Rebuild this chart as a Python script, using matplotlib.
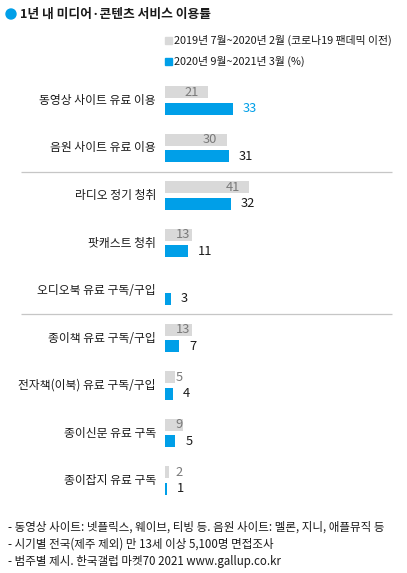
import matplotlib.pyplot as plt
from matplotlib.patches import Ellipse, Rectangle

plt.rcParams['font.family'] = ['Noto Sans CJK KR', 'DejaVu Sans']

# 데이터
categories = ['동영상 사이트 유료 이용', '음원 사이트 유료 이용', '라디오 정기 청취',
              '팟캐스트 청취', '오디오북 유료 구독/구입', '종이책 유료 구독/구입',
              '전자책(이북) 유료 구독/구입', '종이신문 유료 구독', '종이잡지 유료 구독']
before = [21, 30, 41, 13, None, 13, 5, 9, 2]
after = [33, 31, 32, 11, 3, 7, 4, 5, 1]
legend_labels = ['2019년 7월~2020년 2월 (코로나19 팬데믹 이전)',
                 '2020년 9월~2021년 3월 (%)']
title = '1년 내 미디어·콘텐츠 서비스 이용률'
notes = ['- 동영상 사이트: 넷플릭스, 웨이브, 티빙 등. 음원 사이트: 멜론, 지니, 애플뮤직 등',
         '- 시기별 전국(제주 제외) 만 13세 이상 5,100명 면접조사',
         '- 범주별 제시. 한국갤럽 마켓70 2021 www.gallup.co.kr']

GRAY = '#d9d9d9'
BLUE = '#009fe8'
W, H = 407, 573
PX = 2.05  # 픽셀 / %

fig = plt.figure(figsize=(W / 100, H / 100), dpi=100)
fig.patch.set_facecolor('white')

top, bot = 76.75, 504.25
ax = fig.add_axes([165 / W, 1 - bot / H, (W - 165) / W, (bot - top) / H])
ax.set_xlim(0, (W - 165) / PX)
ax.set_ylim(len(categories) - 0.5, -0.5)
ax.axis('off')

bh = 12 / 47.5
off = 8.3 / 47.5
for i, (cat, b, a) in enumerate(zip(categories, before, after)):
    ax.annotate(cat, xy=(0, i), xytext=(-9, 0), textcoords='offset pixels',
                ha='right', va='center', fontsize=8.5, color='#1a1a1a')
    if b is not None:
        ax.barh(i - off, b, height=bh, color=GRAY)
        shift = -9 if b >= 20 else -1
        x = max(b + shift / PX, 17.5 / PX)
        ax.text(x, i - off, str(b), ha='right', va='center',
                fontsize=9.3, color='#7a7a7a')
    ax.barh(i + off, a, height=bh, color=BLUE)
    ax.annotate(str(a), xy=(a, i + off), xytext=(10, 0), textcoords='offset pixels',
                ha='left', va='center', fontsize=9.3,
                color=BLUE if i == 0 else '#1a1a1a')

ax.hlines([1.5, 4.5], -144 / PX, 227 / PX, color='#c6c6c6', lw=0.9, clip_on=False)

# 제목
fig.add_artist(Ellipse((11 / W, 1 - 14 / H), 10 / W, 10 / H, color=BLUE))
fig.text(20 / W, 1 - 14 / H, title, ha='left', va='center', fontsize=9.2,
         fontweight='bold', color='#1a1a1a')

# 범례
for k, (lab, col) in enumerate(zip(legend_labels, [GRAY, BLUE])):
    yc = 40 + 21 * k
    fig.add_artist(Rectangle((165 / W, 1 - (yc + 3.5) / H), 7 / W, 7 / H,
                             color=col))
    fig.text(174 / W, 1 - yc / H, lab, ha='left', va='center', fontsize=7.8,
             color='#1a1a1a')

# 주석
for k, note in enumerate(notes):
    fig.text(8 / W, 1 - (527 + 17.5 * k) / H, note, ha='left', va='center',
             fontsize=8.3, color='#1a1a1a')

fig.savefig('out.png', dpi=100)
